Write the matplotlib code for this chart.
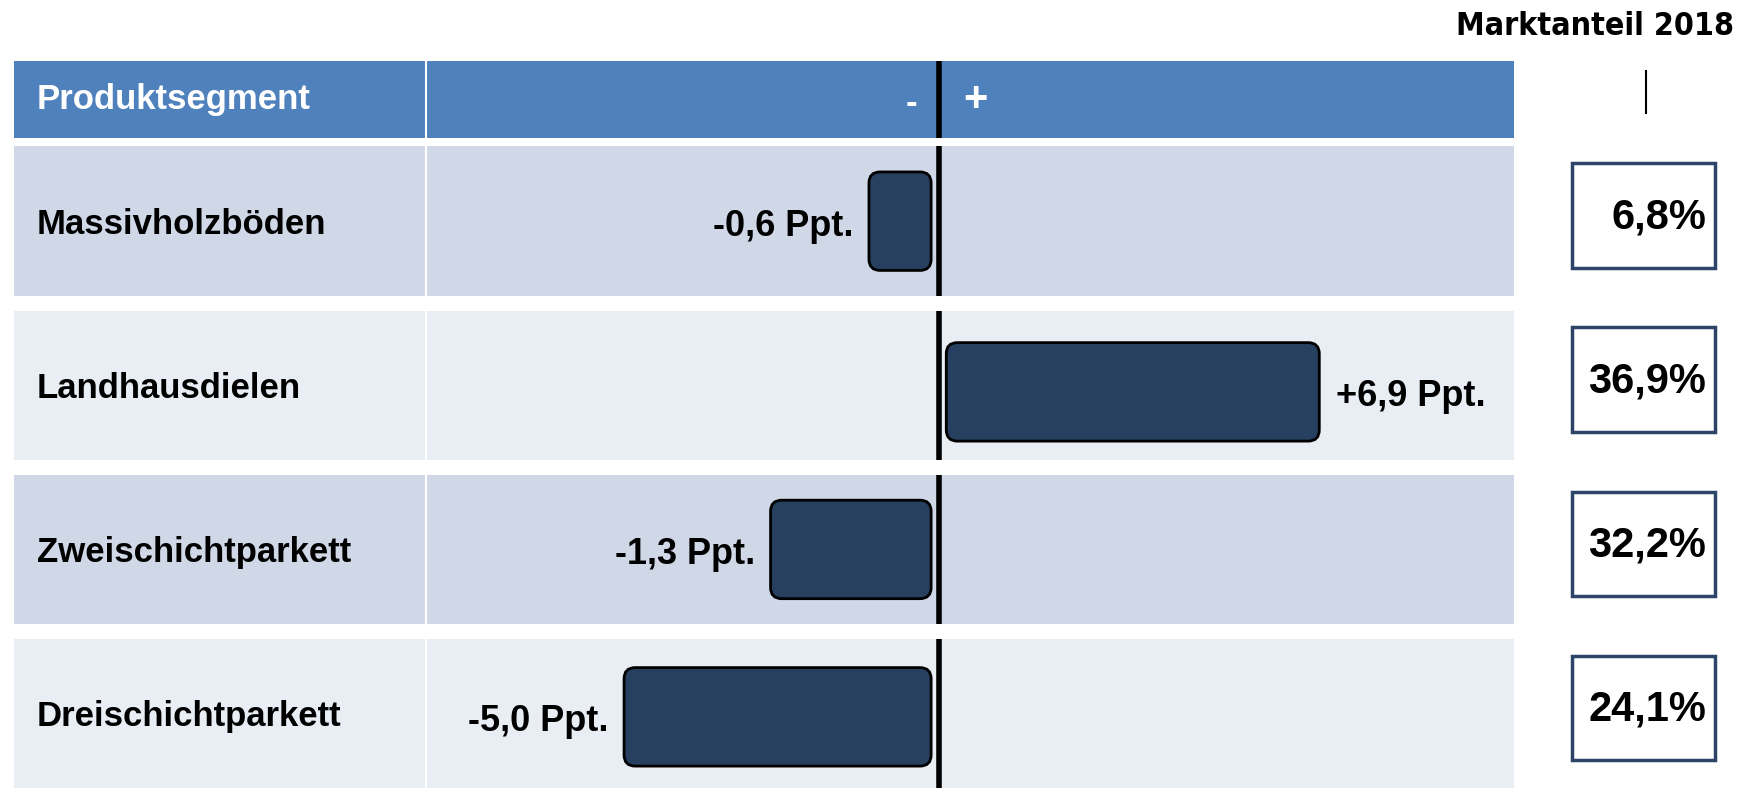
import matplotlib
matplotlib.use('Agg')
import matplotlib.pyplot as plt
from matplotlib.patches import FancyBboxPatch, Rectangle
from matplotlib import font_manager
import matplotlib.transforms as mtrans

# ---------------- data ----------------
categories = ['Massivholzböden', 'Landhausdielen', 'Zweischichtparkett', 'Dreischichtparkett']
change_labels = ['-0,6 Ppt.', '+6,9 Ppt.', '-1,3 Ppt.', '-5,0 Ppt.']
# drawn bar lengths as they appear in the picture (axis units, not to scale of labels)
bar_lengths = [-1.15, 6.9, -2.97, -5.68]
share_2018 = ['6,8%', '36,9%', '32,2%', '24,1%']
header_label = 'Produktsegment'
share_title = 'Marktanteil 2018'

# ---------------- style ----------------
plt.rcParams['font.family'] = ['Liberation Sans', 'DejaVu Sans']
names = {(f.name, f.stretch) for f in font_manager.fontManager.ttflist}
narrow = any(n == 'Liberation Sans Narrow' for n, s in names)
dv_cond = any(n == 'DejaVu Sans' and s == 'condensed' for n, s in names)

HEADER = '#4F81BD'
ROW_DARK = '#D0D8E8'
ROW_LIGHT = '#E9EDF4'
BAR = '#27405F'
BOX_EDGE = '#2B4468'

W, H = 1746, 790
fig = plt.figure(figsize=(W / 100, H / 100), dpi=100)
RW, RH = 1568.0, 709.0

def fx(x):
    return x / RW

def fy(y):
    return 1 - y / RH

# axis geometry (reference pixels)
row0_center = 198.5
row_step = 147.3
px_per_unit = 48.55
zero_x = 843.0
left_px, right_px = 13.0, 1360.0
top_units, bot_units = -1.0, 3.5
top_px = row0_center + top_units * row_step
bot_px = row0_center + bot_units * row_step

ax = fig.add_axes([fx(left_px), fy(bot_px), fx(right_px) - fx(left_px), fy(top_px) - fy(bot_px)])
ax.set_xlim((left_px - zero_x) / px_per_unit, (right_px - zero_x) / px_per_unit)
ax.set_ylim(bot_units, top_units)
ax.axis('off')

blend_ax = mtrans.blended_transform_factory(ax.transAxes, ax.transData)
blend_fig = mtrans.blended_transform_factory(fig.transFigure, ax.transData)

# header band
hdr_top, hdr_bot = (55 - row0_center) / row_step, (124 - row0_center) / row_step
ax.add_patch(Rectangle((0, hdr_top), 1, hdr_bot - hdr_top, transform=blend_ax,
                       facecolor=HEADER, edgecolor='none', zorder=1))
hdr_mid = (hdr_top + hdr_bot) / 2
ax.text(fx(33), hdr_mid, header_label, transform=blend_fig, color='white',
        fontsize=25, fontweight='bold', va='center', ha='left', zorder=5)
ax.text(-0.5, hdr_mid + 0.02, '-', color='white', fontsize=25, fontweight='bold',
        va='center', ha='center', zorder=5)
ax.text(0.68, hdr_mid, '+', color='white', fontsize=30, fontweight='bold',
        va='center', ha='center', zorder=5)
ax.plot([0, 0], [hdr_top, hdr_bot], color='black', lw=4, solid_capstyle='butt', zorder=4)

sep_x = (383 - zero_x) / px_per_unit
ax.plot([sep_x, sep_x], [hdr_top, hdr_bot], color='white', lw=1.5, zorder=2)

half = 0.455
gap = 0.14
bh = 0.6
bar_offsets = [0.0, 0.04, 0.0, 0.02]
for i, (cat, lab, v, share) in enumerate(zip(categories, change_labels, bar_lengths, share_2018)):
    col = ROW_DARK if i % 2 == 0 else ROW_LIGHT
    ax.add_patch(Rectangle((0, i - half), 1, 2 * half, transform=blend_ax,
                           facecolor=col, edgecolor='none', zorder=1))
    ax.plot([sep_x, sep_x], [i - half, i + half], color='white', lw=1.5, zorder=2)
    ax.plot([0, 0], [i - half, i + half], color='black', lw=4, solid_capstyle='butt', zorder=4)

    ax.text(fx(33), i + 0.02, cat, transform=blend_fig, fontsize=25, fontweight='bold',
            va='center', ha='left', zorder=5)

    yc = i + bar_offsets[i]
    x0 = gap if v > 0 else v - gap
    rs = 10 / px_per_unit
    aspect = (1 / row_step) / (1 / px_per_unit)
    ax.add_patch(FancyBboxPatch((x0, yc - bh / 2), abs(v), bh,
                                boxstyle=f'round,pad=0,rounding_size={rs}',
                                mutation_aspect=aspect,
                                facecolor=BAR, edgecolor='black', lw=2, zorder=3))
    if v > 0:
        ax.text(x0 + abs(v) + 0.3, yc + 0.03, lab, fontsize=26, fontweight='bold',
                va='center', ha='left', zorder=5)
    else:
        ax.text(x0 - 0.28, yc + 0.03, lab, fontsize=26, fontweight='bold',
                va='center', ha='right', zorder=5)

    # market share box
    bcy = i - 0.035
    bhh = 0.635
    ax.add_patch(Rectangle((fx(1412), bcy - bhh / 2), fx(1540) - fx(1412), bhh,
                           transform=blend_fig, facecolor='white', edgecolor=BOX_EDGE,
                           lw=2.5, clip_on=False, zorder=3))
    ax.text(fx(1532), bcy + 0.01, share, transform=blend_fig, fontsize=30, fontweight='bold',
            va='center', ha='right', zorder=5, clip_on=False)

# title at top right
if narrow:
    fig.text(fx(1557), fy(24), share_title, family='Liberation Sans Narrow',
             fontsize=31, fontweight='bold', ha='right', va='center')
elif dv_cond:
    fig.text(fx(1557), fy(24), share_title, family='DejaVu Sans', fontstretch='condensed',
             fontsize=23, fontweight='bold', ha='right', va='center')
else:
    fig.text(fx(1557), fy(24), share_title, fontsize=23, fontweight='bold',
             ha='right', va='center')
fig.add_artist(plt.Line2D([fx(1478), fx(1478)], [fy(64), fy(101)],
                          transform=fig.transFigure, color='black', lw=1.5))

fig.savefig('out.png', dpi=100, facecolor='white')
